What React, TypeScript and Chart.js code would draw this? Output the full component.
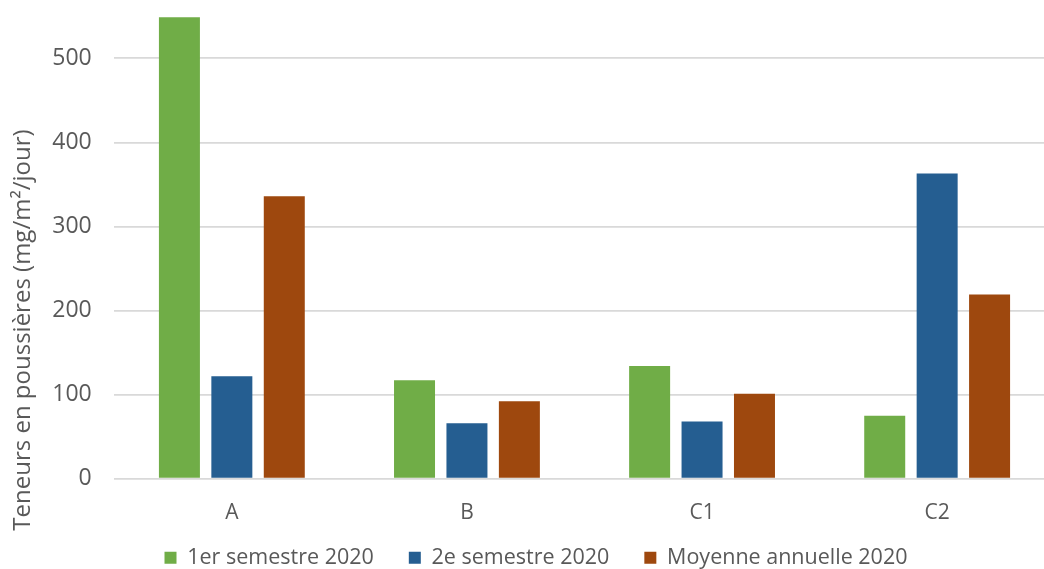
import { useEffect, useRef } from "react";
import { Chart, registerables } from "chart.js";

Chart.register(...registerables);

// Dust deposition per sampling point, 2020
const categories = ["A", "B", "C1", "C2"];
const semestre1 = [549, 117, 134, 75];
const semestre2 = [122, 66, 68, 363];
const moyenneAnnuelle = [336, 92, 101, 219];
const seriesLabels = ["1er semestre 2020", "2e semestre 2020", "Moyenne annuelle 2020"];
const yTickValues = [0, 100, 200, 300, 400, 500];
const yTitle = "Teneurs en poussières (mg/m²/jour)";

const seriesColors = ["#70AD47", "#255E91", "#9E480E"];
const textColor = "#595959";
const fontFamily = "'Open Sans', sans-serif";

// canvas is a bit larger than the visible frame; the frame clips it
const FRAME_W = 1044;
const FRAME_H = 569;
const CANVAS_W = 1072;
const CANVAS_H = 630;
const SHIFT_Y = 40;

const LEGEND_FONT = 21.5;
const LEGEND_PAD = 35;
const LAYOUT_PAD_BOTTOM = 11.5;
const PLOT_BOTTOM = 478.7 + SHIFT_Y;

const yTitlePlugin = {
  id: "yTitle",
  afterDraw(chart: Chart) {
    const { ctx, chartArea } = chart;
    ctx.save();
    ctx.translate(23, chartArea.bottom - 148.7);
    ctx.rotate(-Math.PI / 2);
    ctx.font = `24px ${fontFamily}`;
    ctx.fillStyle = textColor;
    ctx.textAlign = "center";
    ctx.textBaseline = "middle";
    ctx.fillText(yTitle, 0, 0);
    ctx.restore();
  },
};

export default function App() {
  const canvasRef = useRef<HTMLCanvasElement | null>(null);

  useEffect(() => {
    if (!canvasRef.current) return;
    const legendHeight = LEGEND_FONT + LEGEND_PAD + 10;
    const legendTop = CANVAS_H - LAYOUT_PAD_BOTTOM - legendHeight;
    const xAxisHeight = legendTop - PLOT_BOTTOM;

    const chart = new Chart(canvasRef.current, {
      type: "bar",
      data: {
        labels: categories,
        datasets: [
          { label: seriesLabels[0], data: semestre1, backgroundColor: seriesColors[0] },
          { label: seriesLabels[1], data: semestre2, backgroundColor: seriesColors[1] },
          { label: seriesLabels[2], data: moyenneAnnuelle, backgroundColor: seriesColors[2] },
        ],
      },
      options: {
        animation: false,
        responsive: false,
        maintainAspectRatio: false,
        devicePixelRatio: 1,
        datasets: {
          bar: { categoryPercentage: 0.669, barPercentage: 0.782 },
        },
        layout: {
          padding: { top: 16.3 + SHIFT_Y, left: 17.3, right: 17.3, bottom: LAYOUT_PAD_BOTTOM },
        },
        plugins: {
          tooltip: { enabled: false },
          legend: {
            position: "bottom",
            labels: {
              boxWidth: 12,
              boxHeight: 12,
              padding: LEGEND_PAD,
              color: textColor,
              font: { family: fontFamily, size: LEGEND_FONT },
            },
          },
        },
        scales: {
          x: {
            grid: { display: false, drawTicks: false },
            border: { display: false },
            ticks: {
              color: textColor,
              font: { family: fontFamily, size: 21 },
              padding: 21.5,
              maxRotation: 0,
            },
            afterFit(scale: any) {
              scale.height = xAxisHeight;
              // category labels sit a little below the axis box; don't clip them to it
              scale._computeLabelArea = () => undefined;
            },
          },
          y: {
            min: 0,
            max: 550,
            grid: { color: "#D9D9D9", lineWidth: 1.8, drawTicks: false },
            border: { display: false },
            ticks: {
              color: textColor,
              font: { family: fontFamily, size: 23 },
              padding: 22.6,
              stepSize: 100,
            },
            afterBuildTicks(scale: any) {
              scale.ticks = yTickValues.map((v) => ({ value: v }));
            },
            afterFit(scale: any) {
              scale.width = 97;
            },
          },
        },
      },
      plugins: [yTitlePlugin],
    });
    return () => chart.destroy();
  }, []);

  return (
    <div
      style={{
        position: "fixed",
        left: 0,
        top: 0,
        width: FRAME_W,
        height: FRAME_H,
        overflow: "hidden",
        background: "#ffffff",
      }}
    >
      <canvas
        ref={canvasRef}
        width={CANVAS_W}
        height={CANVAS_H}
        style={{ position: "absolute", left: 0, top: -SHIFT_Y, width: CANVAS_W, height: CANVAS_H }}
      />
    </div>
  );
}
